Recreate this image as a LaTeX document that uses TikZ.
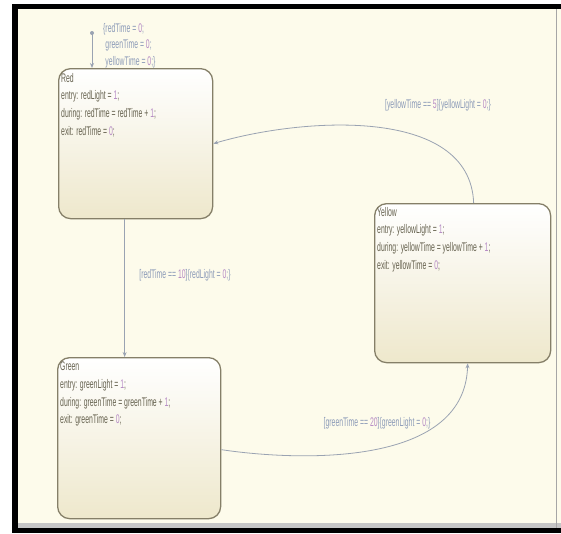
\documentclass[tikz,border=0pt]{standalone}
\usepackage{fontspec}
\setmainfont{Liberation Sans}[FakeStretch=0.55]
\usetikzlibrary{arrows.meta}
\definecolor{cream}{HTML}{FDFBEB}
\definecolor{boxline}{HTML}{857F68}
\definecolor{boxbot}{HTML}{EEE8CC}
\definecolor{stxt}{HTML}{66624F}
\definecolor{ltxt}{HTML}{8C9BB8}
\definecolor{numc}{HTML}{B58AC4}
\definecolor{wirec}{HTML}{9AA3B2}
\newcommand{\nm}[1]{\textcolor{numc}{#1}}
\begin{document}
\begin{tikzpicture}[x=1pt,y=-1pt,
  statebox/.style={draw=boxline, line width=1.3pt, rounded corners=12pt, top color=white, bottom color=boxbot, anchor=north west, inner sep=0pt},
  stext/.style={anchor=north west, align=left, text=stxt, font=\fontsize{12.5}{17.6}\selectfont, inner sep=0pt},
  tlabel/.style={text=ltxt, font=\fontsize{12.5}{16.5}\selectfont, inner sep=0pt},
  trans/.style={draw=wirec, line width=0.8pt, -{Stealth[length=5pt,width=4pt,open]}}]
\useasboundingbox (0,0) rectangle (561,533);
% frame
\fill[white] (0,0) rectangle (561,533);
\fill[black] (12,4) rectangle (561,533);
\fill[cream] (18,9) rectangle (561,528);
\fill[gray!45] (18,523) rectangle (561,528);
\fill[gray!70] (555.5,9) rectangle (557,528);
% states
\node[statebox, minimum width=154pt, minimum height=150pt] (red) at (58,68) {};
\node[statebox, minimum width=163pt, minimum height=161pt] (green) at (57,357) {};
\node[statebox, minimum width=176pt, minimum height=159pt] (yellow) at (374,203) {};
\node[stext] (redtxt) at ([xshift=3pt,yshift=-5pt]red.north west)
  {Red\\entry: redLight = \nm{1};\\during: redTime = redTime + \nm{1};\\exit: redTime = \nm{0};};
\node[stext] (greentxt) at ([xshift=3pt,yshift=-5pt]green.north west)
  {Green\\entry: greenLight = \nm{1};\\during: greenTime = greenTime + \nm{1};\\exit: greenTime = \nm{0};};
\node[stext] (yellowtxt) at ([xshift=3pt,yshift=-4pt]yellow.north west)
  {Yellow\\entry: yellowLight = \nm{1};\\during: yellowTime = yellowTime + \nm{1};\\exit: yellowTime = \nm{0};};
% default transition
\coordinate (init) at (92,33);
\fill[wirec] (init) circle (2pt);
\draw[trans] (init) -- (init |- red.north);
\node[tlabel, anchor=north west, align=left] (initlab) at (103,23)
  {\{redTime = \nm{0};\\\hphantom{\{}greenTime = \nm{0};\\\hphantom{\{}yellowTime = \nm{0};\}};
% transitions
\draw[trans] ([xshift=-11pt]red.south) -- ([xshift=-11pt]red.south |- green.north);
\node[tlabel] (lab1) at (185,275) {[redTime == \nm{10}]\{redLight = \nm{0};\}};
\draw[trans] ([yshift=-11.5pt]green.east) .. controls (290,460) and (465,470) .. ([xshift=5pt]yellow.south);
\node[tlabel] (lab2) at (377,423) {[greenTime == \nm{20}]\{greenLight = \nm{0};\}};
\draw[trans] ([xshift=11pt]yellow.north) .. controls (470,105) and (300,118) .. (red.east);
\node[tlabel] (lab3) at (438,105) {[yellowTime == \nm{5}]\{yellowLight = \nm{0};\}};
\end{tikzpicture}
\end{document}
